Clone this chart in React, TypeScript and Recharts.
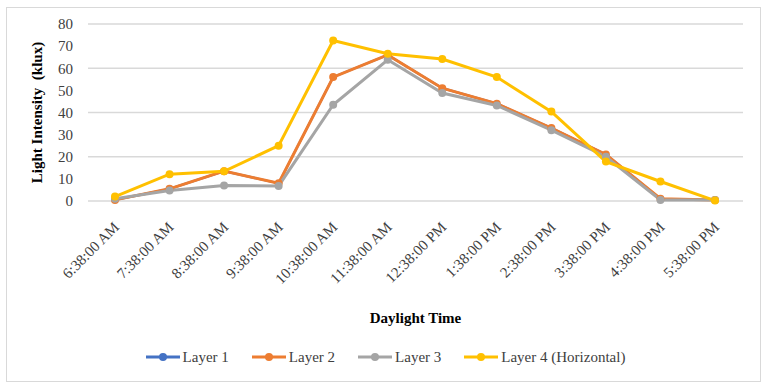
import { CartesianGrid, Legend, Line, LineChart, XAxis, YAxis } from "recharts";

const times = [
  "6:38:00 AM",
  "7:38:00 AM",
  "8:38:00 AM",
  "9:38:00 AM",
  "10:38:00 AM",
  "11:38:00 AM",
  "12:38:00 PM",
  "1:38:00 PM",
  "2:38:00 PM",
  "3:38:00 PM",
  "4:38:00 PM",
  "5:38:00 PM",
];

// layer 1 sits underneath layer 2 in the original, so it is not visible
const layer1 = [0.5, 5.5, 13.5, 8, 56, 66, 51, 44, 33, 21, 1, 0.5];
const layer2 = [0.5, 5.5, 13.5, 8, 56, 66, 51, 44, 33, 21, 1, 0.5];
const layer3 = [1, 4.7, 7, 6.8, 43.5, 63.8, 48.8, 43.2, 32, 20, 0.5, 0.5];
const layer4 = [2, 12.1, 13.4, 25, 72.5, 66.6, 64.2, 56, 40.4, 17.8, 8.8, 0.2];

const yTicks = [0, 10, 20, 30, 40, 50, 60, 70, 80];

const series = [
  { key: "layer1", name: "Layer 1", color: "#4472C4" },
  { key: "layer2", name: "Layer 2", color: "#ED7D31" },
  { key: "layer3", name: "Layer 3", color: "#A5A5A5" },
  { key: "layer4", name: "Layer 4 (Horizontal)", color: "#FFC000" },
];

const data = times.map((t, i) => ({
  time: t,
  layer1: layer1[i],
  layer2: layer2[i],
  layer3: layer3[i],
  layer4: layer4[i],
}));

const font = '"Liberation Serif", "Times New Roman", serif';

function AngledTick({ x, payload }: any) {
  const ax = x + 5;
  const ay = 228;
  return (
    <text
      x={ax}
      y={ay}
      transform={`rotate(-45, ${ax}, ${ay})`}
      textAnchor="end"
      fontSize={15}
      fontFamily={font}
      fill="#404040"
    >
      {payload.value}
    </text>
  );
}

function LegendContent() {
  return (
    <div
      style={{
        height: 24,
        display: "flex",
        justifyContent: "center",
        alignItems: "center",
        gap: 23,
        fontFamily: font,
        fontSize: 15,
        color: "#404040",
      }}
    >
      {series.map((s) => (
        <div key={s.key} style={{ display: "flex", alignItems: "center" }}>
          <svg width={34} height={12} style={{ marginRight: 3 }}>
            <line x1={0} y1={6} x2={34} y2={6} stroke={s.color} strokeWidth={3} />
            <circle cx={17} cy={6} r={4} fill={s.color} />
          </svg>
          <span>{s.name}</span>
        </div>
      ))}
    </div>
  );
}

export default function App() {
  return (
    <div style={{ position: "absolute", left: 0, top: 0, width: 777, height: 385, background: "#fff" }}>
      <div
        style={{
          position: "absolute",
          left: 6,
          top: 7,
          width: 753,
          height: 373,
          border: "1px solid #d9d9d9",
        }}
      />
      <div style={{ position: "absolute", left: 0, top: 0 }}>
        <LineChart
          width={777}
          height={385}
          data={data}
          margin={{ top: 24, right: 34, left: 28, bottom: 16 }}
        >
          <CartesianGrid vertical={false} stroke="#d9d9d9" strokeWidth={1.3} />
          <XAxis
            dataKey="time"
            interval={0}
            axisLine={false}
            tickLine={false}
            padding={{ left: 27, right: 28 }}
            height={144}
            tick={<AngledTick />}
            label={{
              value: "Daylight Time",
              position: "insideBottom",
              offset: 22,
              fontFamily: font,
              fontSize: 15,
              fontWeight: "bold",
              fill: "#000",
            }}
          />
          <YAxis
            domain={[0, 80]}
            ticks={yTicks}
            width={60}
            axisLine={false}
            tickLine={false}
            tickMargin={9}
            tick={{ fontFamily: font, fontSize: 15, fill: "#404040" }}
            label={{
              value: "Light Intensity\u00a0 (klux)",
              angle: -90,
              position: "center",
              dx: -21,
              fontFamily: font,
              fontSize: 15,
              fontWeight: "bold",
              fill: "#000",
            }}
          />
          <Legend verticalAlign="bottom" content={<LegendContent />} />
          {series.map((s, i) => (
            <Line
              key={s.key}
              dataKey={s.key}
              name={s.name}
              stroke={s.color}
              strokeWidth={i === 0 ? 2.2 : 3}
              dot={{ r: i === 0 ? 3.2 : 4, fill: s.color, stroke: "none" }}
              activeDot={false}
              isAnimationActive={false}
            />
          ))}
        </LineChart>
      </div>
    </div>
  );
}
